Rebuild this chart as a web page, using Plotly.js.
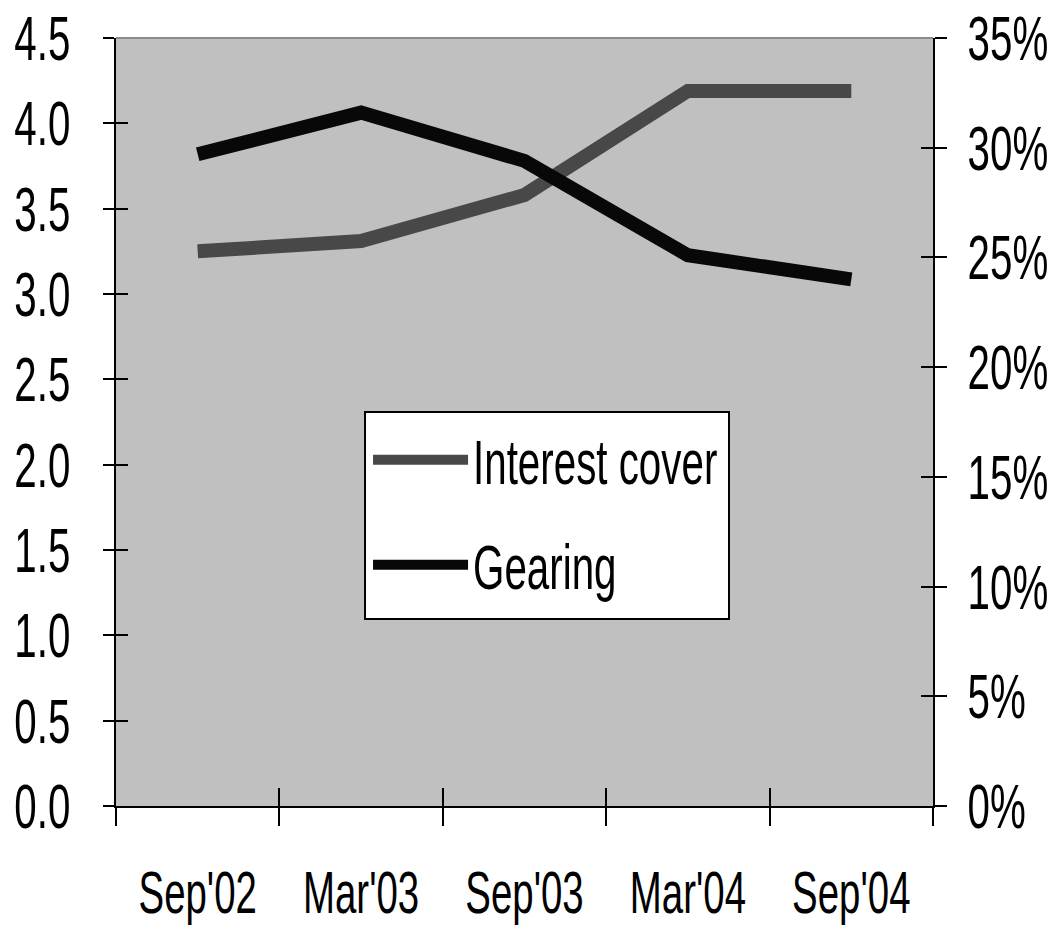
<!DOCTYPE html>
<html>
<head>
<meta charset="utf-8">
<script src="https://cdn.plot.ly/plotly-3.0.1.min.js"></script>
<style>html,body{margin:0;padding:0;background:#fff;}#chart{width:1054px;height:930px;}</style>
</head>
<body>
<div id="chart"></div>
<script>
const periods = ["Sep'02", "Mar'03", "Sep'03", "Mar'04", "Sep'04"];
const interestCover = [3.25, 3.31, 3.58, 4.19, 4.19];
const gearing = [0.297, 0.316, 0.294, 0.251, 0.240];
const leftTicks = [0, 0.5, 1, 1.5, 2, 2.5, 3, 3.5, 4, 4.5];
const rightTicks = [0, 0.05, 0.10, 0.15, 0.20, 0.25, 0.30, 0.35];

const FONT = '"Liberation Sans", Arial, sans-serif';
const SQUEEZE = 0.64;

const traces = [
  {x: periods, y: interestCover, name: 'Interest cover', type: 'scatter', mode: 'lines',
   line: {color: '#484848', width: 14}, xaxis: 'x', yaxis: 'y', legendgroup: 'a'},
  {x: periods, y: gearing, name: 'Gearing', type: 'scatter', mode: 'lines',
   line: {color: '#080808', width: 14}, xaxis: 'x', yaxis: 'y2', legendgroup: 'b'}
];
// invisible traces that activate the overlay axes used for crossing ticks
traces.push({x: periods, y: interestCover, xaxis: 'x2', yaxis: 'y3', mode: 'lines',
  line: {width: 0}, hoverinfo: 'skip', showlegend: false, opacity: 0});
traces.push({x: periods, y: gearing, xaxis: 'x2', yaxis: 'y4', mode: 'lines',
  line: {width: 0}, hoverinfo: 'skip', showlegend: false, opacity: 0});

const layout = {
  width: 1054, height: 930,
  margin: {l: 116, r: 121, t: 38, b: 124},
  paper_bgcolor: '#ffffff',
  plot_bgcolor: '#c0c0c0',
  font: {family: FONT, size: 62, color: '#000'},
  showlegend: true,
  legend: {x: 0.3085, y: 0.5125, xanchor: 'left', yanchor: 'top',
    bgcolor: 'rgba(0,0,0,0)', borderwidth: 0,
    font: {family: FONT, size: 63, color: '#000'}, itemwidth: 95,
    traceorder: 'grouped', tracegroupgap: 20},
  xaxis: {type: 'category', range: [-0.5, 4.5], tickson: 'boundaries', tickangle: 0,
    ticks: 'outside', ticklen: 18, tickwidth: 2, tickcolor: '#000',
    showline: true, linecolor: '#000', linewidth: 2, showgrid: false, zeroline: false,
    tickfont: {family: FONT, size: 60}, ticklabelstandoff: 33},
  xaxis2: {type: 'category', overlaying: 'x', matches: 'x', range: [-0.5, 4.5], tickson: 'boundaries',
    ticks: 'inside', ticklen: 18, tickwidth: 2, tickcolor: '#000', showticklabels: false,
    showline: false, showgrid: false, zeroline: false},
  yaxis: {range: [0, 4.5], tickvals: leftTicks, ticktext: leftTicks.map(v => v.toFixed(1)),
    ticks: 'outside', ticklen: 11, tickwidth: 2, tickcolor: '#000',
    showline: true, linecolor: '#000', linewidth: 2, showgrid: false, zeroline: false,
    tickfont: {family: FONT, size: 63}, ticklabelstandoff: 20},
  yaxis3: {overlaying: 'y', matches: 'y', range: [0, 4.5], tickvals: leftTicks,
    ticks: 'inside', ticklen: 12, tickwidth: 2, tickcolor: '#000', showticklabels: false,
    showline: false, showgrid: false, zeroline: false},
  yaxis2: {overlaying: 'y', side: 'right', range: [0, 0.35], tickvals: rightTicks,
    ticktext: rightTicks.map(v => Math.round(v * 100) + '%'),
    ticks: 'outside', ticklen: 12, tickwidth: 2, tickcolor: '#000',
    showline: true, linecolor: '#000', linewidth: 2, showgrid: false, zeroline: false,
    tickfont: {family: FONT, size: 63}, ticklabelstandoff: 8},
  yaxis4: {overlaying: 'y', matches: 'y2', side: 'right', range: [0, 0.35], tickvals: rightTicks,
    ticks: 'inside', ticklen: 12, tickwidth: 2, tickcolor: '#000', showticklabels: false,
    showline: false, showgrid: false, zeroline: false},
  shapes: [
    {type: 'line', xref: 'paper', yref: 'paper', x0: 0, x1: 1, y0: 1, y1: 1,
     line: {color: '#8c8c8c', width: 2}},
    {type: 'rect', xref: 'paper', yref: 'paper', x0: 0.3048, x1: 0.7503, y0: 0.2435, y1: 0.513,
     fillcolor: '#ffffff', line: {color: '#000', width: 2}}
  ]
};

function squeeze(gd) {
  const sel = gd.querySelectorAll('.xtick text, .ytick text, .y2tick text, .legendtext');
  sel.forEach(el => {
    const w = el.getComputedTextLength();
    if (w > 0) {
      el.setAttribute('textLength', (w * SQUEEZE).toFixed(2));
      el.setAttribute('lengthAdjust', 'spacingAndGlyphs');
    }
  });
}

Plotly.newPlot('chart', traces, layout, {staticPlot: true}).then(squeeze);
</script>
</body>
</html>
